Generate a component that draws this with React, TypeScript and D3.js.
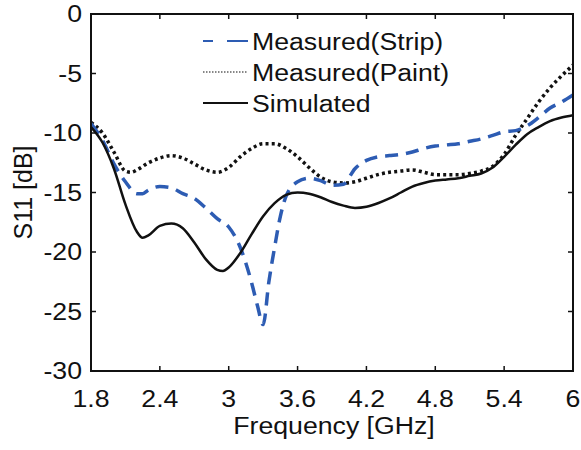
import React from "react";
import * as d3 from "d3";

const freqSim = [1.8,1.9,2.0,2.1,2.2,2.25,2.3,2.4,2.5,2.6,2.7,2.8,2.9,2.95,3.0,3.1,3.2,3.3,3.4,3.5,3.6,3.7,3.8,3.9,4.0,4.1,4.2,4.3,4.4,4.5,4.6,4.7,4.8,4.9,5.0,5.1,5.2,5.3,5.4,5.5,5.6,5.7,5.8,5.9,6.0];
const simulated = [-9.5,-10.8,-13.0,-16.0,-18.3,-18.8,-18.6,-17.8,-17.6,-18.0,-19.2,-20.6,-21.5,-21.6,-21.3,-20.1,-18.5,-17.0,-15.9,-15.2,-15.0,-15.1,-15.4,-15.8,-16.1,-16.3,-16.2,-15.9,-15.5,-15.0,-14.5,-14.2,-14.0,-13.9,-13.8,-13.6,-13.4,-12.9,-12.0,-11.0,-10.1,-9.5,-9.0,-8.7,-8.5];

const freqPaint = [1.8,1.9,2.0,2.1,2.15,2.2,2.3,2.4,2.5,2.6,2.7,2.8,2.9,3.0,3.1,3.2,3.3,3.4,3.5,3.6,3.7,3.8,3.9,4.0,4.1,4.2,4.3,4.4,4.5,4.6,4.7,4.8,4.9,5.0,5.1,5.2,5.3,5.4,5.5,5.6,5.7,5.8,5.9,6.0];
const paint = [-9.1,-10.0,-11.6,-13.2,-13.3,-13.1,-12.5,-12.1,-11.9,-12.1,-12.6,-13.1,-13.3,-12.9,-12.0,-11.3,-10.9,-10.9,-11.3,-12.0,-12.9,-13.7,-14.1,-14.2,-14.1,-13.8,-13.5,-13.3,-13.2,-13.1,-13.3,-13.5,-13.5,-13.5,-13.4,-13.2,-12.8,-11.8,-10.2,-8.8,-7.4,-6.2,-5.2,-4.3];

const freqStrip = [1.8,1.9,2.0,2.1,2.2,2.25,2.3,2.4,2.5,2.6,2.7,2.8,2.9,3.0,3.1,3.2,3.25,3.3,3.35,3.4,3.45,3.5,3.6,3.7,3.8,3.9,4.0,4.1,4.2,4.3,4.4,4.5,4.6,4.7,4.8,4.9,5.0,5.1,5.2,5.3,5.4,5.5,5.6,5.7,5.8,5.9,6.0];
const strip = [-9.2,-10.6,-12.6,-14.1,-15.1,-15.1,-14.8,-14.5,-14.6,-15.1,-15.5,-16.3,-17.2,-17.9,-19.6,-22.6,-24.5,-26.1,-22.5,-19.6,-17.0,-15.3,-14.1,-13.8,-14.0,-14.4,-14.3,-13.0,-12.3,-12.0,-11.9,-11.8,-11.6,-11.3,-11.1,-11.0,-10.9,-10.7,-10.5,-10.2,-9.9,-9.8,-9.4,-8.7,-7.9,-7.4,-6.8];

const xTicks = [1.8,2.4,3.0,3.6,4.2,4.8,5.4,6.0];
const xTickLabels = ["1.8","2.4","3","3.6","4.2","4.8","5.4","6"];
const yTicks = [0,-5,-10,-15,-20,-25,-30];
const yTickLabels = ["0","-5","-10","-15","-20","-25","-30"];
const legendLabels = ["Measured(Strip)","Measured(Paint)","Simulated"];

const W = 581, H = 450;
const L = 91, R = 573, T = 14, B = 371;
const BLUE = "#2d5cb3";
const FONT = "'Liberation Sans', Arial, sans-serif";
const SX = 1.16;
const FS = 23;

function HText({ x, y, anchor, size, children }: any) {
  return (
    <g transform={`translate(${x},${y}) scale(${SX},1)`}>
      <text x={0} y={0} textAnchor={anchor} fontSize={size} fontFamily={FONT} fill="#111">{children}</text>
    </g>
  );
}

export default function App() {
  const x = d3.scaleLinear().domain([1.8, 6]).range([L, R]);
  const y = d3.scaleLinear().domain([-30, 0]).range([B, T]);
  const line = (fs: number[], vs: number[]) =>
    d3.line<number>().x((_, i) => x(fs[i])).y((d) => y(d)).curve(d3.curveMonotoneX)(vs) || "";

  const legY = [41, 72, 103];
  return (
    <svg width={W} height={H} style={{ position: "absolute", left: 0, top: 0, background: "#fff" }}>
      <defs>
        <clipPath id="clip"><rect x={L} y={T} width={R - L} height={B - T} /></clipPath>
      </defs>
      <g clipPath="url(#clip)">
        <path d={line(freqPaint, paint)} fill="none" stroke="#111" strokeWidth={3.5} strokeDasharray="3,3.2" />
        <path d={line(freqStrip, strip)} fill="none" stroke={BLUE} strokeWidth={3.5} strokeDasharray="13,8" />
        <path d={line(freqSim, simulated)} fill="none" stroke="#111" strokeWidth={2.5} />
      </g>
      <rect x={L} y={T} width={R - L} height={B - T} fill="none" stroke="#111" strokeWidth={2} />
      {xTicks.map((t, i) => (
        <g key={"x" + i}>
          <line x1={x(t)} x2={x(t)} y1={B} y2={B - 5} stroke="#111" strokeWidth={1.5} />
          <line x1={x(t)} x2={x(t)} y1={T} y2={T + 5} stroke="#111" strokeWidth={1.5} />
          <HText x={x(t)} y={407} anchor="middle" size={FS}>{xTickLabels[i]}</HText>
        </g>
      ))}
      {yTicks.map((t, i) => (
        <g key={"y" + i}>
          <line x1={L} x2={L + 5} y1={y(t)} y2={y(t)} stroke="#111" strokeWidth={1.5} />
          <line x1={R} x2={R - 5} y1={y(t)} y2={y(t)} stroke="#111" strokeWidth={1.5} />
          <HText x={82} y={y(t) + 8.3} anchor="end" size={FS}>{yTickLabels[i]}</HText>
        </g>
      ))}
      <HText x={(L + R) / 2 + 2} y={434} anchor="middle" size={FS}>Frequency [GHz]</HText>
      <g transform={`translate(32,${(T + B) / 2}) rotate(-90)`}>
        <text x={0} y={0} textAnchor="middle" fontSize={25} fontFamily={FONT} fill="#111">S11 [dB]</text>
      </g>
      <line x1={203} x2={248} y1={legY[0]} y2={legY[0]} stroke={BLUE} strokeWidth={2} strokeDasharray="10,14,21,100" />
      <line x1={203} x2={248} y1={legY[1]} y2={legY[1]} stroke="#111" strokeWidth={1.2} strokeDasharray="1.5,1.5" />
      <line x1={203} x2={248} y1={legY[2]} y2={legY[2]} stroke="#111" strokeWidth={2} />
      {legendLabels.map((l, i) => (
        <HText key={l} x={252} y={legY[i] + 8.5} anchor="start" size={FS}>{l}</HText>
      ))}
    </svg>
  );
}
